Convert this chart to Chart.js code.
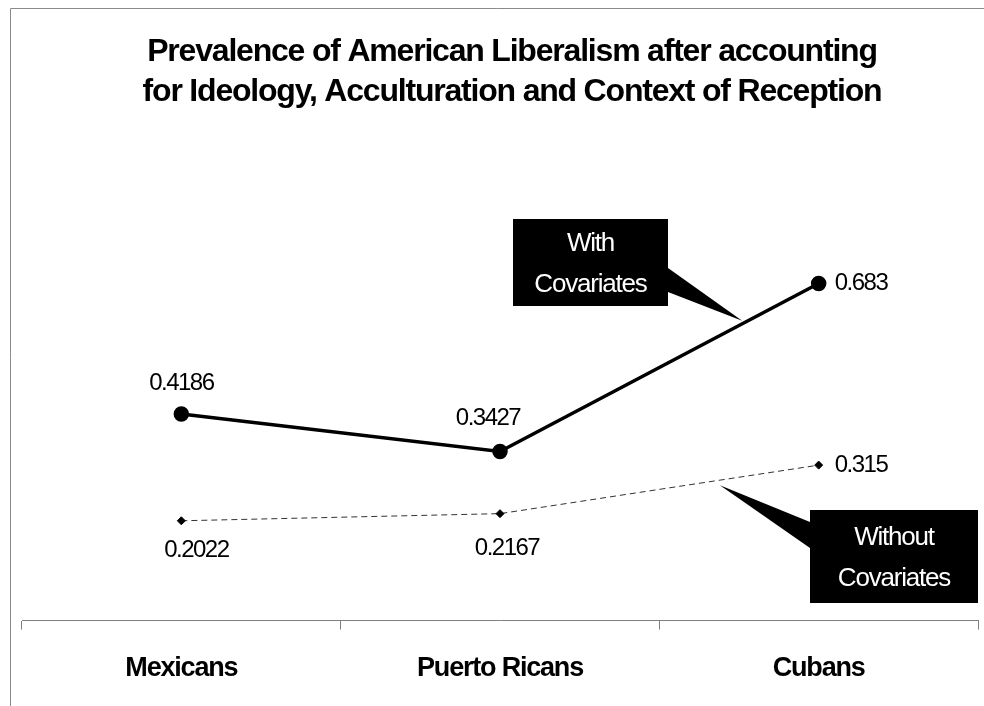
<!DOCTYPE html>
<html>
<head>
  <title>Prevalence of American Liberalism</title>
  <script src="https://cdn.jsdelivr.net/npm/chart.js@4.4.0/dist/chart.umd.min.js"></script>
  <style>
    body { margin: 0; background: #fff; }
  </style>
</head>
<body>
  <canvas id="lineChart" width="984" height="706"></canvas>
  <script>
    var groups = ['Mexicans', 'Puerto Ricans', 'Cubans'];
    var withCovariates = [0.4186, 0.3427, 0.683];
    var withoutCovariates = [0.2022, 0.2167, 0.315];
    var titleLines = [
      'Prevalence of American Liberalism after accounting',
      'for Ideology, Acculturation and Context of Reception'
    ];

    var FONT = "'Liberation Sans', Arial, sans-serif";

    // white page, thin frame along the left and top edge, and the two-line title
    var framePlugin = {
      id: 'frame',
      beforeDraw: function(chart) {
        var ctx = chart.ctx;
        ctx.save();
        ctx.fillStyle = '#fff';
        ctx.fillRect(0, 0, chart.width, chart.height);
        ctx.strokeStyle = '#8a8a8a';
        ctx.lineWidth = 1;
        ctx.beginPath();
        ctx.moveTo(10.5, chart.height);
        ctx.lineTo(10.5, 8.5);
        ctx.lineTo(chart.width, 8.5);
        ctx.stroke();

        ctx.letterSpacing = '-1.2px';
        ctx.font = 'bold 32px ' + FONT;
        ctx.fillStyle = '#000';
        ctx.textAlign = 'center';
        ctx.textBaseline = 'middle';
        titleLines.forEach(function(line, i) {
          ctx.fillText(line, 512, 52 + i * 40);
        });
        ctx.restore();
        // tight spacing for the category names too
        ctx.letterSpacing = '-1.2px';
      }
    };

    // value next to every point, placement set per dataset
    var valueLabels = {
      id: 'valueLabels',
      afterDatasetsDraw: function(chart) {
        var ctx = chart.ctx;
        chart.data.datasets.forEach(function(ds, di) {
          var meta = chart.getDatasetMeta(di);
          meta.data.forEach(function(pt, i) {
            var place = ds.labelPlace[i];
            ctx.save();
            ctx.letterSpacing = '-1.5px';
            ctx.font = '24px ' + FONT;
            ctx.fillStyle = '#000';
            ctx.textAlign = place.align;
            ctx.textBaseline = 'middle';
            ctx.fillText(String(ds.data[i]), pt.x + place.dx, pt.y + place.dy);
            ctx.restore();
          });
        });
      }
    };

    // black callout boxes pointing at a spot on a series line
    var callouts = [
      { dataset: 0, seg: 1, t: 0.76, dy: -3, box: [513, 219, 155, 87], base: [268, 292], side: 'right', lines: ['With', 'Covariates'] },
      { dataset: 1, seg: 1, t: 0.69, dy: 5, box: [810, 510, 168, 93], base: [522, 548], side: 'left', lines: ['Without', 'Covariates'] }
    ];

    var calloutPlugin = {
      id: 'callouts',
      afterDatasetsDraw: function(chart) {
        var ctx = chart.ctx;
        callouts.forEach(function(c) {
          var meta = chart.getDatasetMeta(c.dataset);
          var a = meta.data[c.seg], b = meta.data[c.seg + 1];
          var tipX = a.x + (b.x - a.x) * c.t;
          var tipY = a.y + (b.y - a.y) * c.t + c.dy;
          var bx = c.box[0], by = c.box[1], bw = c.box[2], bh = c.box[3];
          var edge = c.side === 'right' ? bx + bw : bx;
          ctx.save();
          ctx.fillStyle = '#000';
          ctx.beginPath();
          ctx.moveTo(edge, c.base[0]);
          ctx.lineTo(tipX, tipY);
          ctx.lineTo(edge, c.base[1]);
          ctx.closePath();
          ctx.fill();
          ctx.fillRect(bx, by, bw, bh);
          ctx.fillStyle = '#fff';
          ctx.letterSpacing = '-1.2px';
          ctx.font = '26px ' + FONT;
          ctx.textAlign = 'center';
          ctx.textBaseline = 'middle';
          var cy = by + bh / 2;
          ctx.fillText(c.lines[0], bx + bw / 2, cy - 19);
          ctx.fillText(c.lines[1], bx + bw / 2, cy + 22);
          ctx.restore();
        });
      }
    };

    var ctx = document.getElementById('lineChart').getContext('2d');

    new Chart(ctx, {
      type: 'line',
      data: {
        labels: groups,
        datasets: [{
          label: 'With Covariates',
          data: withCovariates,
          borderColor: '#000',
          borderWidth: 3.5,
          pointStyle: 'circle',
          pointRadius: 6,
          pointBackgroundColor: '#000',
          pointBorderColor: '#000',
          tension: 0,
          labelPlace: [
            { dx: 0, dy: -31, align: 'center' },
            { dx: -12, dy: -33, align: 'center' },
            { dx: 16, dy: 0, align: 'left' }
          ]
        }, {
          label: 'Without Covariates',
          data: withoutCovariates,
          borderColor: '#333',
          borderWidth: 1,
          borderDash: [6, 4],
          pointStyle: 'rectRot',
          pointRadius: 4,
          pointBackgroundColor: '#000',
          pointBorderColor: '#000',
          tension: 0,
          labelPlace: [
            { dx: 15, dy: 30, align: 'center' },
            { dx: 7, dy: 35, align: 'center' },
            { dx: 16, dy: 0, align: 'left' }
          ]
        }]
      },
      options: {
        responsive: false,
        animation: false,
        layout: { autoPadding: false, padding: { left: 22, right: 6, top: 127, bottom: -2 } },
        plugins: {
          legend: { display: false },
          tooltip: { enabled: false },
          title: { display: false }
        },
        scales: {
          x: {
            offset: true,
            grid: { offset: true, drawOnChartArea: false, drawTicks: true, tickLength: 9, color: '#808080', lineWidth: 1 },
            border: { display: true, color: '#808080', width: 1 },
            ticks: { color: '#000', font: { family: FONT, size: 27, weight: 'bold' }, padding: 23 }
          },
          y: { display: false, min: 0, max: 1 }
        }
      },
      plugins: [framePlugin, valueLabels, calloutPlugin]
    });
  </script>
</body>
</html>
